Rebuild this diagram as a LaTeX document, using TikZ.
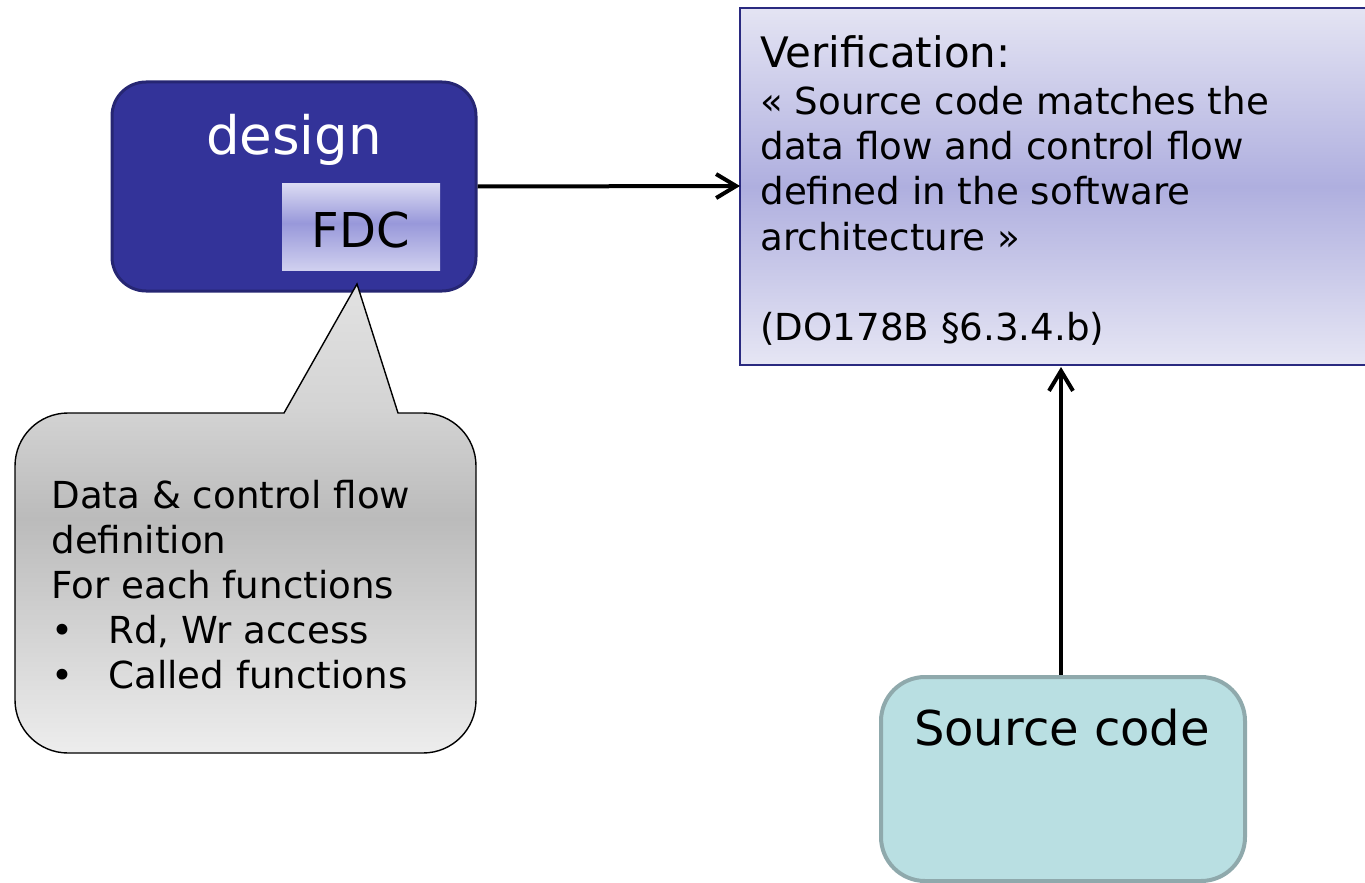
\documentclass[tikz,border=0pt]{standalone}
\usepackage{fontspec}
\setmainfont{DejaVu Sans}
\usetikzlibrary{arrows.meta}
\definecolor{designfill}{HTML}{333399}
\definecolor{designdraw}{HTML}{262673}
\definecolor{verdraw}{HTML}{2A2A80}
\definecolor{srcfill}{HTML}{B9DFE2}
\definecolor{srcdraw}{HTML}{8FA9AC}
\definecolor{vtop}{HTML}{E4E4F3}
\definecolor{vmid}{HTML}{AFAFDF}
\definecolor{vbot}{HTML}{E6E6F4}
\definecolor{ftop}{HTML}{DCDCF3}
\definecolor{fmid}{HTML}{9898DA}
\definecolor{fbot}{HTML}{D0D0EF}
\definecolor{ctop}{HTML}{E2E2E2}
\definecolor{cmid}{HTML}{D4D4D4}
\definecolor{cdark}{HTML}{BBBBBB}
\definecolor{cbot}{HTML}{EDEDED}
\pgfdeclareverticalshading{callshade}{100bp}{color(0bp)=(cbot); color(25bp)=(cbot); color(50bp)=(cdark); color(62bp)=(cmid); color(75bp)=(ctop); color(100bp)=(ctop)}
\pgfdeclareverticalshading{vershade}{100bp}{color(0bp)=(vbot); color(25bp)=(vbot); color(50bp)=(vmid); color(75bp)=(vtop); color(100bp)=(vtop)}
\pgfdeclareverticalshading{fdcshade}{100bp}{color(0bp)=(fbot); color(25bp)=(fbot); color(52bp)=(fmid); color(75bp)=(ftop); color(100bp)=(ftop)}
\begin{document}
\begin{tikzpicture}[x=0.5pt,y=-0.5pt,
  conn/.style={line width=2pt,-{Straight Barb[length=10pt,width=12pt,line width=2pt]}},
  ln/.style={inner sep=0pt,anchor=base west},
  vfont/.style={font=\fontsize{18.6pt}{22.5pt}\selectfont},
  cfont/.style={font=\fontsize{18.6pt}{22.5pt}\selectfont},
]
\useasboundingbox (0,0) rectangle (1365,883);
% verification box
\path[shading=vershade] (740,8) rectangle (1367,365);
\draw[verdraw,line width=0.8pt] (1367,8) -- (740,8) -- (740,365) -- (1367,365);
\coordinate (ver) at (740,186);
\coordinate (verb) at (1061,367);
\node[ln,font=\fontsize{21pt}{25pt}\selectfont] (v1) at (760,68) {Verification:};
\node[ln,vfont] (v2) at (760,115) {« Source code matches the};
\node[ln,vfont] (v3) at (760,160) {data flow and control flow};
\node[ln,vfont] (v4) at (760,205) {defined in the software};
\node[ln,vfont] (v5) at (760,250) {architecture »};
\node[ln,vfont] (v6) at (760,340) {(DO178B §6.3.4.b)};
% design box
\node[draw=designdraw,fill=designfill,line width=1.5pt,rounded corners=17pt,minimum width=182pt,minimum height=104.5pt,inner sep=0pt] (design) at (294,186.5) {};
\node[text=white,font=\fontsize{26.5pt}{30pt}\selectfont,inner sep=0pt,anchor=base] (dlabel) at (294,155) {design};
\path[shading=fdcshade] (282,183) rectangle (440,270);
\node[font=\fontsize{24pt}{30pt}\selectfont,inner sep=0pt,anchor=base] (fdc) at (361,247) {FDC};
% callout
\path[draw=black,line width=0.7pt,shading=callshade]
  (284,413) -- (357,284) -- (398,413) -- (423,413)
  .. controls (452.3,413) and (476,436.7) .. (476,466) -- (476,700)
  .. controls (476,729.3) and (452.3,753) .. (423,753) -- (68,753)
  .. controls (38.7,753) and (15,729.3) .. (15,700) -- (15,466)
  .. controls (15,436.7) and (38.7,413) .. (68,413) -- cycle;
\node[ln,cfont] (c1) at (51,508) {Data \& control flow};
\node[ln,cfont] (c2) at (51,553) {definition};
\node[ln,cfont] (c3) at (51,598) {For each functions};
\node[ln,cfont] (b1) at (51,643) {•};
\node[ln,cfont] (b2) at (51,688) {•};
\node[ln,cfont] (i1) at (108,643) {Rd, Wr access};
\node[ln,cfont] (i2) at (108,688) {Called functions};
% source code
\node[draw=srcdraw,fill=srcfill,line width=2pt,rounded corners=22pt,minimum width=182pt,minimum height=102pt,inner sep=0pt] (src) at (1063,779) {};
\node[font=\fontsize{24pt}{28pt}\selectfont,inner sep=0pt,anchor=base] (slabel) at (1062,745) {Source code};
% connectors
\draw[conn] (design.east) -- (ver);
\draw[conn] (src.north -| verb) -- (verb);
\end{tikzpicture}
\end{document}
